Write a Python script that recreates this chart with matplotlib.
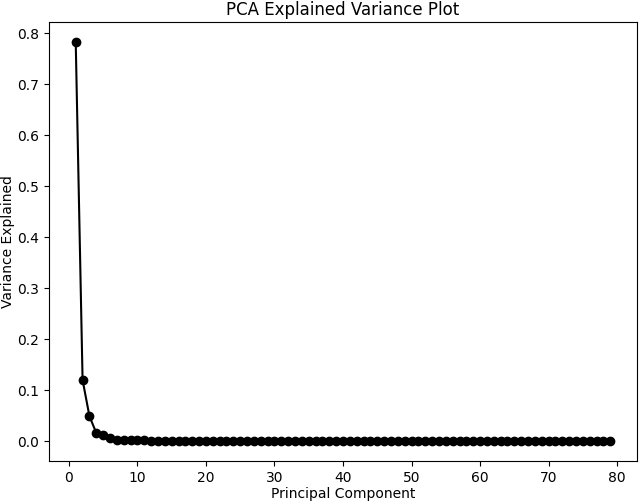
import numpy as np
import matplotlib
matplotlib.use('Agg')
import matplotlib.pyplot as plt

# explained variance ratio per principal component
components = list(range(1, 80))
head_variance = [0.783, 0.120, 0.049, 0.016, 0.012, 0.006, 0.003, 0.0025, 0.002,
                 0.0015, 0.0015, 0.0008, 0.0006, 0.0005, 0.0004]
tail_variance = [0.0002] * (len(components) - len(head_variance))
variance = head_variance + tail_variance

fig = plt.figure(figsize=(6.4, 5.01), dpi=100)
ax = fig.add_axes([49 / 640, 40 / 501, 588 / 640, 439 / 501])

ax.plot(components, variance, 'o-', color='black', markersize=6, linewidth=1.5)
ax.set_title('PCA Explained Variance Plot', pad=5)
ax.set_xlabel('Principal Component', labelpad=1.5)
ax.set_ylabel('Variance Explained', labelpad=1.5)

fig.savefig('out.png', dpi=100)
